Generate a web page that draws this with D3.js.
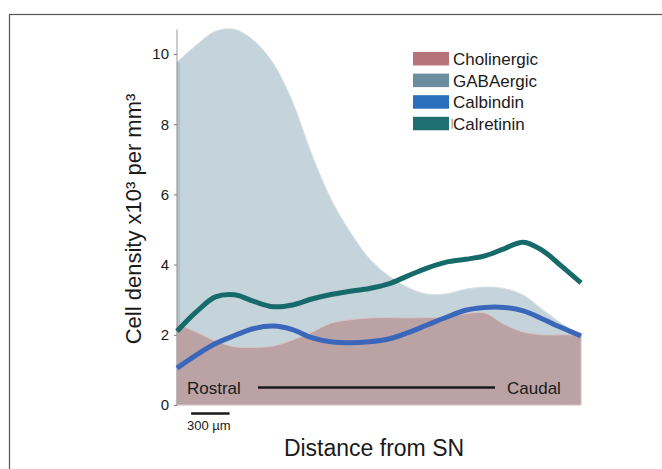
<!DOCTYPE html>
<html>
<head>
<meta charset="utf-8">
<script src="https://cdn.jsdelivr.net/npm/d3@7"></script>
<style>
  body { margin: 0; background: #fff; }
  text { font-family: "Liberation Sans", Arial, sans-serif; fill: #1a1a1a; }
</style>
</head>
<body>
<svg width="662" height="469"></svg>
<script>
// distance from SN in µm (sampled every 150 µm)
const distance = d3.range(0, 3151, 150);
const cholinergic = [2.32, 2.08, 1.82, 1.66, 1.64, 1.68, 1.85, 2.07, 2.33, 2.43, 2.48, 2.49, 2.48, 2.49, 2.5, 2.6, 2.62, 2.3, 2.08, 2.0, 2.0, 2.0];
const gabaergic = [9.77, 10.25, 10.65, 10.7, 10.38, 9.74, 8.65, 7.15, 5.87, 4.93, 4.17, 3.68, 3.35, 3.16, 3.17, 3.3, 3.36, 3.32, 3.13, 2.72, 2.32, 2.0];
const calbindin = [1.05, 1.42, 1.75, 1.98, 2.18, 2.25, 2.15, 1.92, 1.8, 1.77, 1.8, 1.88, 2.06, 2.28, 2.5, 2.7, 2.78, 2.78, 2.68, 2.45, 2.2, 1.97];
const calretinin = [2.1, 2.65, 3.08, 3.14, 2.95, 2.8, 2.85, 3.02, 3.15, 3.24, 3.32, 3.45, 3.68, 3.9, 4.07, 4.15, 4.25, 4.45, 4.64, 4.4, 3.95, 3.48];
const yTicks = [0, 2, 4, 6, 8, 10];
const legendLabels = ['Cholinergic', 'GABAergic', 'Calbindin', 'Calretinin'];
const legendColors = ['#b5737a', '#6a8e9e', '#2c6fbe', '#1e7070'];

const svg = d3.select('svg');

const x = d3.scaleLinear().domain([0, 3150]).range([177, 581]);
const y = d3.scaleLinear().domain([0, 10]).range([405, 54]);
const curve = d3.curveCatmullRom.alpha(0.5);

// frame
svg.append('rect')
    .attr('x', 9.5).attr('y', 14.5)
    .attr('width', 700).attr('height', 500)
    .attr('fill', 'none').attr('stroke', '#555').attr('stroke-width', 1.2);

const area = vals => d3.area()
    .x((d, i) => x(distance[i]))
    .y0(y(0))
    .y1((d, i) => y(vals[i]))
    .curve(curve)(vals);

const line = vals => d3.line()
    .x((d, i) => x(distance[i]))
    .y((d, i) => y(vals[i]))
    .curve(curve)(vals);

svg.append('path').attr('d', area(gabaergic))
    .attr('fill', '#c5d4db').attr('stroke', '#d6e2e7').attr('stroke-width', 1);
svg.append('rect')
    .attr('x', x(0)).attr('y', y(gabaergic[0]))
    .attr('width', 3).attr('height', y(0) - y(gabaergic[0]))
    .attr('fill', '#afc1ca');
svg.append('path').attr('d', area(cholinergic))
    .attr('fill', '#bba2a5').attr('stroke', '#d8c4c6').attr('stroke-width', 1);

// y axis
const yAxis = svg.append('g')
    .attr('transform', `translate(${x(0)},0)`)
    .call(d3.axisLeft(y).tickValues(yTicks).tickSize(3).tickPadding(5));
yAxis.select('.domain').remove();
yAxis.append('line')
    .attr('y1', y(0)).attr('y2', y(10.7))
    .attr('stroke', '#999');
yAxis.selectAll('.tick line').attr('stroke', '#777');
yAxis.selectAll('.tick text')
    .style('font-size', '15px')
    .style('font-family', '"Liberation Sans", Arial, sans-serif')
    .attr('fill', '#1a1a1a');

// lines
svg.append('path').attr('d', line(calretinin))
    .attr('fill', 'none').attr('stroke', '#176a6a')
    .attr('stroke-width', 5).attr('stroke-linejoin', 'round');
svg.append('path').attr('d', line(calbindin))
    .attr('fill', 'none').attr('stroke', '#3b67bb')
    .attr('stroke-width', 5).attr('stroke-linejoin', 'round');

// rostral-caudal annotation
svg.append('text').attr('x', 187).attr('y', 394)
    .style('font-size', '17px').text('Rostral');
svg.append('line')
    .attr('x1', 258).attr('x2', 495).attr('y1', 387.5).attr('y2', 387.5)
    .attr('stroke', '#1a1a1a').attr('stroke-width', 2.5);
svg.append('text').attr('x', 507).attr('y', 394)
    .style('font-size', '17px').text('Caudal');

// scale bar
svg.append('line')
    .attr('x1', x(110)).attr('x2', x(410)).attr('y1', 413.5).attr('y2', 413.5)
    .attr('stroke', '#1a1a1a').attr('stroke-width', 2.5);
svg.append('text').attr('x', 187).attr('y', 430)
    .style('font-size', '13px').text('300 µm');

// axis titles
svg.append('text')
    .attr('transform', 'translate(141,219) rotate(-90)')
    .attr('text-anchor', 'middle')
    .style('font-size', '22px')
    .text('Cell density x10³ per mm³');
svg.append('text')
    .attr('x', 374).attr('y', 456)
    .attr('text-anchor', 'middle')
    .style('font-size', '23px')
    .text('Distance from SN');

// legend
const legend = svg.append('g').attr('transform', 'translate(413,52)');
legendLabels.forEach((label, i) => {
    const row = legend.append('g').attr('transform', `translate(0,${i * 21.6})`);
    row.append('rect').attr('width', 36).attr('height', 13.5).attr('fill', legendColors[i]);
    row.append('text').attr('x', 40).attr('y', 13).style('font-size', '17px').text(label);
});
legend.append('rect')
    .attr('x', 38.5).attr('y', 3 * 21.6 + 2).attr('width', 1.2).attr('height', 10)
    .attr('fill', '#d08088');
</script>
</body>
</html>
